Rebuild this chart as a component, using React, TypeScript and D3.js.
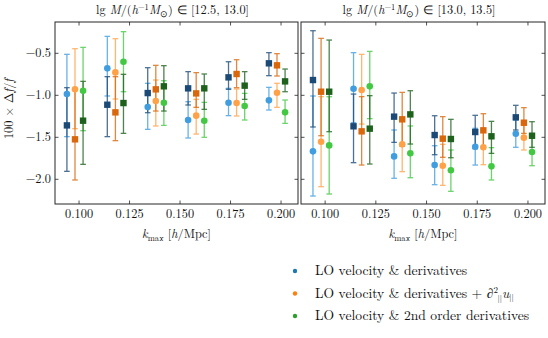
import React from "react";
import * as d3 from "d3";

// k_max bins and the small horizontal offsets of the three colour families
const kValues = [0.1, 0.12, 0.14, 0.16, 0.18, 0.2];
const familyOffsets = [-0.006, -0.002, 0.002];
const xTicks = [0.1, 0.125, 0.15, 0.175, 0.2];
const yTicks = [-0.5, -1.0, -1.5, -2.0];

// each point: [value, lower, upper]
type Pt = [number, number, number];

// lg M in [12.5, 13.0]
const lowBlueLight: Pt[] = [[-0.985, -1.492, -0.512], [-0.679, -1.008, -0.298], [-1.139, -1.405, -0.857], [-1.294, -1.508, -1.076], [-1.088, -1.242, -0.917], [-1.06, -1.175, -0.905]];
const lowBlueDark: Pt[] = [[-1.358, -1.905, -0.909], [-1.112, -1.492, -0.778], [-0.973, -1.207, -0.671], [-0.917, -1.115, -0.718], [-0.786, -0.929, -0.6], [-0.619, -0.766, -0.492]];
const lowOrangeLight: Pt[] = [[-0.929, -1.397, -0.445], [-0.727, -1.044, -0.326], [-1.068, -1.365, -0.818], [-1.242, -1.461, -1.048], [-1.092, -1.246, -0.925], [-0.969, -1.143, -0.857]];
const lowOrangeDark: Pt[] = [[-1.524, -2.008, -0.929], [-1.203, -1.54, -0.778], [-0.929, -1.187, -0.643], [-0.977, -1.143, -0.73], [-0.746, -0.909, -0.576], [-0.643, -0.77, -0.504]];
const lowGreenLight: Pt[] = [[-0.945, -1.421, -0.429], [-0.6, -0.957, -0.242], [-1.088, -1.358, -0.826], [-1.302, -1.5, -1.084], [-1.127, -1.294, -0.977], [-1.203, -1.334, -1.056]];
const lowGreenDark: Pt[] = [[-1.302, -1.822, -0.834], [-1.092, -1.453, -0.75], [-0.893, -1.187, -0.647], [-0.917, -1.167, -0.746], [-0.885, -1.048, -0.718], [-0.834, -0.957, -0.687]];

// lg M in [13.0, 13.5]
const highBlueLight: Pt[] = [[-1.667, -2.199, -1.008], [-0.921, -1.326, -0.492], [-1.727, -1.988, -1.413], [-1.83, -2.064, -1.6], [-1.612, -1.83, -1.393], [-1.457, -1.619, -1.294]];
const highBlueDark: Pt[] = [[-0.818, -1.377, -0.231], [-1.369, -1.802, -0.985], [-1.254, -1.56, -0.973], [-1.473, -1.707, -1.243], [-1.437, -1.635, -1.238], [-1.262, -1.413, -1.119]];
const highOrangeLight: Pt[] = [[-1.552, -2.088, -1.016], [-0.937, -1.342, -0.512], [-1.584, -1.909, -1.258], [-1.838, -2.072, -1.584], [-1.619, -1.826, -1.413], [-1.504, -1.651, -1.358]];
const highOrangeDark: Pt[] = [[-0.957, -1.481, -0.322], [-1.429, -1.83, -1.016], [-1.286, -1.608, -0.965], [-1.516, -1.738, -1.254], [-1.417, -1.619, -1.219], [-1.326, -1.453, -1.147]];
const highGreenLight: Pt[] = [[-1.596, -2.175, -1.017], [-0.893, -1.278, -0.477], [-1.691, -1.981, -1.365], [-1.893, -2.143, -1.651], [-1.846, -2.008, -1.623], [-1.675, -1.838, -1.512]];
const highGreenDark: Pt[] = [[-0.957, -1.433, -0.342], [-1.397, -1.818, -1.004], [-1.227, -1.58, -0.945], [-1.52, -1.743, -1.286], [-1.488, -1.691, -1.31], [-1.481, -1.619, -1.314]];

const lightColors = ["#3f9de0", "#ffa247", "#43c843"];
const darkColors = ["#1b4a76", "#d9670b", "#1d611d"];
const legendColors = ["#1f77b4", "#ff7f0e", "#2ca02c"];

const panels = [
  { lo: "12.5", hi: "13.0", light: [lowBlueLight, lowOrangeLight, lowGreenLight], dark: [lowBlueDark, lowOrangeDark, lowGreenDark] },
  { lo: "13.0", hi: "13.5", light: [highBlueLight, highOrangeLight, highGreenLight], dark: [highBlueDark, highOrangeDark, highGreenDark] },
];

const W = 548;
const H = 338;
const top = 22;
const bottom = 204;
const panelX = [[55, 298], [301, 545]];
const font = "Latin Modern Roman";
const fs = 12.3;

const y = d3.scaleLinear().domain([-2.294, -0.127]).range([bottom, top]);

const ErrorBar = ({ x, p, color }: { x: number; p: Pt; color: string }) => {
  const y0 = y(p[1]);
  const y1 = y(p[2]);
  return (
    <g stroke={color} strokeWidth={1.3} opacity={0.78}>
      <line x1={x} x2={x} y1={y0} y2={y1} />
      <line x1={x - 2.8} x2={x + 2.8} y1={y0} y2={y0} />
      <line x1={x - 2.8} x2={x + 2.8} y1={y1} y2={y1} />
    </g>
  );
};

const Panel = ({ idx }: { idx: number }) => {
  const panel = panels[idx];
  const [x0, x1] = panelX[idx];
  const x = d3.scaleLinear().domain([0.0881, 0.2084]).range([x0, x1]);
  const cx = (x0 + x1) / 2;
  const tl = 3.5;
  return (
    <g>
      {[0, 1, 2].map(f => (
        <g key={f}>
          {panel.light[f].map((p, i) => (
            <ErrorBar key={"l" + i} x={x(kValues[i] + familyOffsets[f])} p={p} color={lightColors[f]} />
          ))}
          {panel.dark[f].map((p, i) => (
            <ErrorBar key={"d" + i} x={x(kValues[i] + familyOffsets[f])} p={p} color={darkColors[f]} />
          ))}
          {panel.light[f].map((p, i) => (
            <circle key={"c" + i} cx={x(kValues[i] + familyOffsets[f])} cy={y(p[0])} r={3.3} fill={lightColors[f]} />
          ))}
          {panel.dark[f].map((p, i) => (
            <rect key={"s" + i} x={x(kValues[i] + familyOffsets[f]) - 3.2} y={y(p[0]) - 3.2} width={6.4} height={6.4} fill={darkColors[f]} />
          ))}
        </g>
      ))}
      <rect x={x0} y={top} width={x1 - x0} height={bottom - top} fill="none" stroke="#262626" strokeWidth={1} />
      {xTicks.map(t => (
        <g key={t} stroke="#262626" strokeWidth={0.8}>
          <line x1={x(t)} x2={x(t)} y1={bottom} y2={bottom - tl} />
          <line x1={x(t)} x2={x(t)} y1={top} y2={top + tl} />
        </g>
      ))}
      {yTicks.map(t => (
        <g key={t} stroke="#262626" strokeWidth={0.8}>
          <line x1={x0} x2={x0 + tl} y1={y(t)} y2={y(t)} />
          <line x1={x1} x2={x1 - tl} y1={y(t)} y2={y(t)} />
        </g>
      ))}
      {xTicks.map(t => (
        <text key={t} x={x(t)} y={bottom + 14} textAnchor="middle" fontFamily={font} fontSize={fs} fill="#111">
          {d3.format(".3f")(t)}
        </text>
      ))}
      {idx === 0 &&
        yTicks.map(t => (
          <text key={t} x={x0 - 4} y={y(t) + 4} textAnchor="end" fontFamily={font} fontSize={fs} fill="#111">
            {d3.format(".1f")(t).replace("-", "\u2212")}
          </text>
        ))}
      <text x={cx - 4} y={14} textAnchor="middle" fontFamily={font} fontSize={fs} fill="#111">
        {"lg "}
        <tspan fontStyle="italic">M</tspan>
        {"/("}
        <tspan fontStyle="italic">h</tspan>
        <tspan dy={-4.5} fontSize={8.6}>{"\u22121"}</tspan>
        <tspan dy={4.5} fontStyle="italic">M</tspan>
        <tspan dy={2.5} fontSize={8.6}>{"\u2299"}</tspan>
        <tspan dy={-2.5}>{") \u2208 [" + panel.lo + ", " + panel.hi + "]"}</tspan>
      </text>
      <text x={cx} y={238} textAnchor="middle" fontFamily={font} fontSize={fs} fill="#111">
        <tspan fontStyle="italic">k</tspan>
        <tspan dy={2.5} fontSize={8.6}>max</tspan>
        <tspan dy={-2.5}>{" ["}</tspan>
        <tspan fontStyle="italic">h</tspan>
        {"/Mpc]"}
      </text>
    </g>
  );
};

const legendLabels = ["LO velocity & derivatives", "LO velocity & derivatives + ", "LO velocity & 2nd order derivatives"];
const legendRows = [271, 293.5, 316];

const App = () => (
  <svg width={W} height={H} style={{ position: "absolute", left: 0, top: 0, display: "block", background: "#fff" }}>
    <Panel idx={0} />
    <Panel idx={1} />
    <text transform={`translate(12.5, 109) rotate(-90)`} textAnchor="middle" fontFamily={font} fontSize={fs} fill="#111">
      {"100 \u00d7 \u0394"}
      <tspan fontStyle="italic">f</tspan>
      {"/"}
      <tspan fontStyle="italic">f</tspan>
    </text>
    {legendLabels.map((label, i) => (
      <g key={i}>
        <circle cx={295} cy={legendRows[i]} r={2.2} fill={legendColors[i]} />
        <text x={315} y={legendRows[i] + 4.2} fontFamily={font} fontSize={13.6} fill="#111">
          {label}
          {i === 1 && (
            <>
              <tspan fontStyle="italic">{"\u2202"}</tspan>
              <tspan dy={-5} fontSize={9}>2</tspan>
              <tspan dx={-0.5} dy={8.5} fontSize={8}>||</tspan>
              <tspan dy={-3.5} fontStyle="italic">u</tspan>
              <tspan dy={2.5} fontSize={8}>||</tspan>
            </>
          )}
        </text>
      </g>
    ))}
  </svg>
);

export default App;
